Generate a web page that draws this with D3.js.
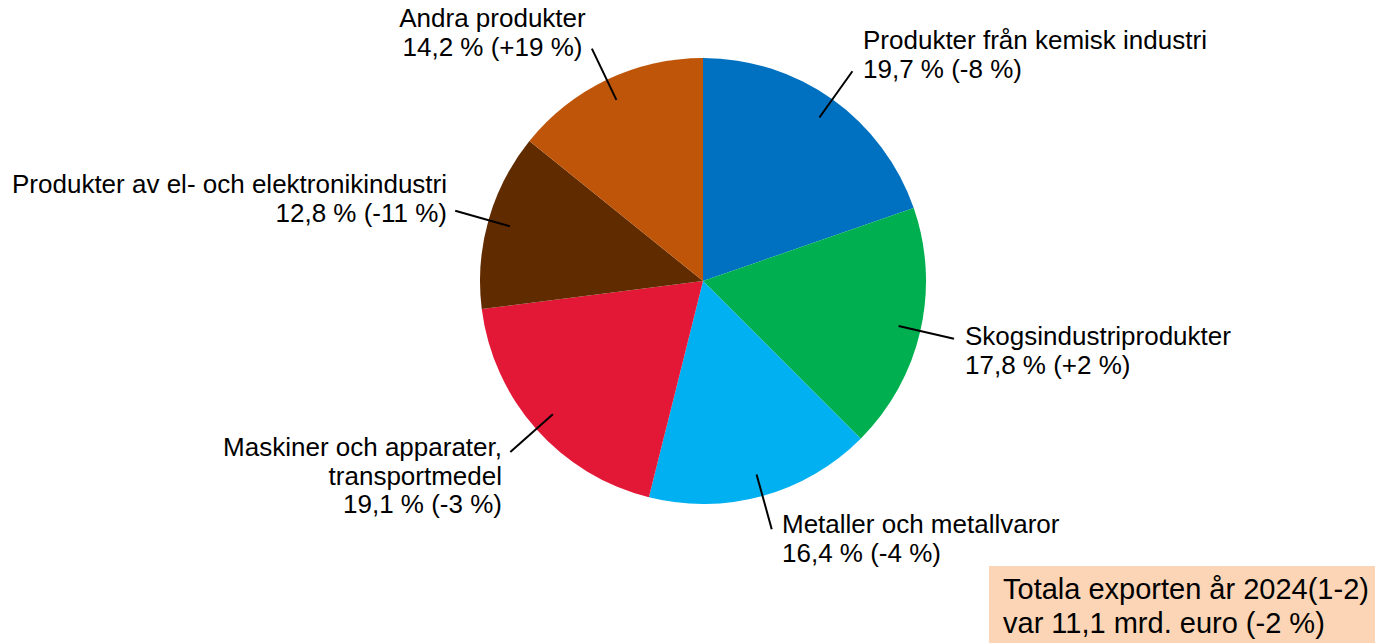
<!DOCTYPE html>
<html>
<head>
<meta charset="utf-8">
<title>Export pie</title>
<script src="https://d3js.org/d3.v7.min.js"></script>
<style>
body { margin: 0; background: #fff; }
svg { display: block; font-family: "Liberation Sans", Arial, sans-serif; }
</style>
</head>
<body>
<script>
// shares of total export, clockwise from 12 o'clock
const categories = ["Produkter från kemisk industri", "Skogsindustriprodukter", "Metaller och metallvaror",
  "Maskiner och apparater, transportmedel", "Produkter av el- och elektronikindustri", "Andra produkter"];
const shares = [19.7, 17.8, 16.4, 19.1, 12.8, 14.2];
const changes = ["-8", "+2", "-4", "-3", "-11", "+19"];
const colors = ["#0070C0", "#00B050", "#00B0F0", "#E31837", "#612B00", "#BF5508"];
// label lines as they are broken in the chart
const labelLines = [
  ["Produkter från kemisk industri"],
  ["Skogsindustriprodukter"],
  ["Metaller och metallvaror"],
  ["Maskiner och apparater,", "transportmedel"],
  ["Produkter av el- och elektronikindustri"],
  ["Andra produkter"]
];
const totalText = ["Totala exporten år 2024(1-2)", "var 11,1 mrd. euro (-2 %)"];

const width = 1375, height = 643;
const cx = 703, cy = 281, R = 223;
const fmt = v => String(v).replace(".", ",");

// label anchor: x, first baseline, text-anchor
const labelPos = [
  {x: 863, y: 49, anchor: "start"},
  {x: 965, y: 345, anchor: "start"},
  {x: 782, y: 533, anchor: "start"},
  {x: 502, y: 456, anchor: "end"},
  {x: 447, y: 193, anchor: "end"},
  {x: 492.5, y: 27, anchor: "middle"}
];
const lineH = 28.5;

const svg = d3.select("body").append("svg")
  .attr("width", width).attr("height", height);

const pie = d3.pie().sort(null).value(d => d)(shares);
const arc = d3.arc().innerRadius(0).outerRadius(R);

const g = svg.append("g").attr("transform", `translate(${cx},${cy})`);

g.selectAll("path")
  .data(pie)
  .join("path")
  .attr("d", arc)
  .attr("fill", (d, i) => colors[i]);

// leader lines, radial from inside the slice to outside
const inner = d3.arc().innerRadius(R * 0.9).outerRadius(R * 0.9);
const outer = d3.arc().innerRadius(R * 1.155).outerRadius(R * 1.155);
g.selectAll("line")
  .data(pie)
  .join("line")
  .attr("x1", d => inner.centroid(d)[0])
  .attr("y1", d => inner.centroid(d)[1])
  .attr("x2", d => outer.centroid(d)[0])
  .attr("y2", d => outer.centroid(d)[1])
  .attr("stroke", "#000")
  .attr("stroke-width", 2);

const labels = svg.append("g")
  .selectAll("text")
  .data(pie)
  .join("text")
  .attr("font-size", 26)
  .attr("fill", "#000")
  .attr("text-anchor", (d, i) => labelPos[i].anchor);

labels.each(function(d, i) {
  const lines = labelLines[i].concat([`${fmt(shares[i])} % (${changes[i]} %)`]);
  d3.select(this).selectAll("tspan")
    .data(lines)
    .join("tspan")
    .attr("x", labelPos[i].x)
    .attr("y", (t, j) => labelPos[i].y + j * lineH)
    .text(t => t);
});

// total box
const box = svg.append("g");
box.append("rect")
  .attr("x", 989).attr("y", 566)
  .attr("width", width - 989).attr("height", height - 566)
  .attr("fill", "#FBD5B5");
box.selectAll("text")
  .data(totalText)
  .join("text")
  .attr("x", 1003)
  .attr("y", (t, j) => 599 + j * 34)
  .attr("font-size", 29)
  .attr("fill", "#000")
  .text(t => t);
</script>
</body>
</html>
